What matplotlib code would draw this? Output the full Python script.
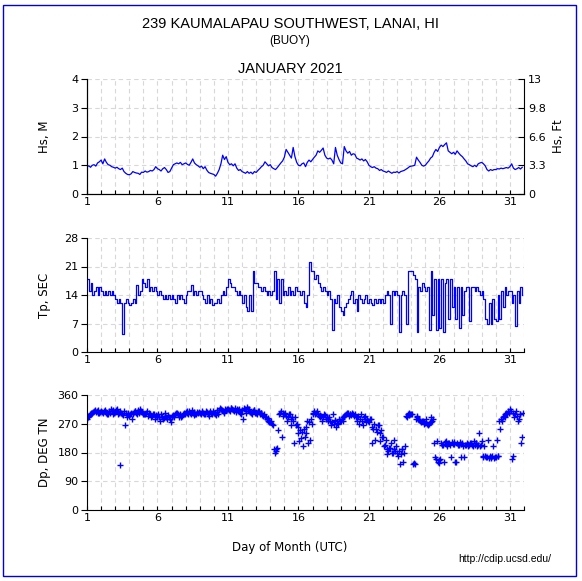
import numpy as np
import matplotlib.pyplot as plt
from matplotlib.patches import Rectangle

# 8 samples per day, Jan 1 - Jan 31
hs = [
    0.95, 0.98, 0.93, 1.00, 1.02, 0.97, 1.08, 1.12,
    1.18, 1.05, 1.22, 1.10, 1.02, 1.00, 0.95, 0.93,
    0.90, 0.93, 0.88, 0.85, 0.90, 0.78, 0.72, 0.68,
    0.67, 0.70, 0.78, 0.75, 0.73, 0.72, 0.68, 0.76,
    0.75, 0.80, 0.76, 0.78, 0.82, 0.80, 0.85, 0.95,
    0.88, 0.85, 0.80, 0.88, 0.92, 0.85, 0.75, 0.78,
    0.90, 1.02, 1.05, 1.08, 1.05, 1.10, 1.02, 1.05,
    1.08, 1.03, 1.00, 1.10, 1.22, 1.08, 1.02, 0.98,
    0.93, 0.97, 0.88, 0.95, 0.83, 0.75, 0.72, 0.70,
    0.68, 0.62, 0.72, 0.85, 1.05, 1.35, 1.20, 1.30,
    1.10, 1.02, 1.05, 0.98, 1.05, 0.90, 0.82, 0.85,
    0.78, 0.75, 0.72, 0.78, 0.72, 0.76, 0.70, 0.78,
    0.75, 0.82, 0.88, 0.95, 1.00, 1.12, 1.05, 0.98,
    1.02, 0.92, 0.88, 0.85, 0.92, 1.00, 1.08, 1.15,
    1.28, 1.55, 1.45, 1.35, 1.25, 1.62, 1.30, 1.10,
    1.00, 0.98, 1.05, 1.08, 0.95, 1.10, 1.18, 1.12,
    1.20, 1.28, 1.35, 1.50, 1.45, 1.52, 1.60, 1.35,
    1.25, 1.22, 1.25, 1.18, 1.05, 1.62, 1.35, 1.20,
    1.08, 1.05, 1.65, 1.50, 1.42, 1.48, 1.35, 1.40,
    1.38, 1.25, 1.22, 1.18, 1.22, 1.15, 1.20, 1.12,
    1.00, 0.95, 0.92, 0.95, 0.90, 0.88, 0.82, 0.85,
    0.80, 0.78, 0.75, 0.80, 0.76, 0.72, 0.76, 0.75,
    0.78, 0.73, 0.78, 0.80, 0.82, 0.86, 0.90, 0.95,
    0.97, 0.98, 1.00, 1.28, 1.18, 1.10, 1.00, 0.97,
    1.00, 1.08, 1.15, 1.25, 1.30, 1.45, 1.55, 1.48,
    1.62, 1.70, 1.65, 1.72, 1.78, 1.50, 1.45, 1.40,
    1.45, 1.38, 1.50, 1.42, 1.35, 1.30, 1.22, 1.15,
    1.05, 1.02, 0.98, 0.95, 1.00, 0.95, 1.05, 1.08,
    1.10, 1.05, 0.98, 0.85, 0.80, 0.85, 0.82, 0.85,
    0.85, 0.88, 0.87, 0.90, 0.88, 0.90, 0.92, 0.90,
    0.95, 1.05, 0.90, 0.85, 0.88, 0.92, 0.87, 0.93,
]

tp = [
    18, 15, 17, 14, 15, 16, 14, 16,
    15, 14, 15, 14, 15, 14, 15, 14,
    13, 12, 13, 12, 4.5, 12, 13, 12,
    11.5, 12, 13, 12, 16.5, 14, 15, 18,
    17, 16, 18, 15, 16, 15, 16, 15,
    14, 15, 14, 13, 14, 13, 14, 13,
    14, 13, 12, 14, 13, 14, 13, 12,
    14, 15, 15, 16.5, 14, 15, 14, 15,
    15, 14, 13, 12, 14, 12, 13, 11.5,
    12, 12, 13, 12, 14, 15, 14, 16,
    18, 17, 16, 16, 15, 14, 15, 14,
    12, 14, 11, 10, 14, 10, 20, 17,
    17, 16, 16, 15, 16, 15, 14, 15,
    14, 15, 20, 13, 18, 12, 18, 14,
    15, 14, 16, 14, 15, 14, 16, 15,
    15, 14, 15, 12, 11, 14, 22, 20,
    20, 18, 19, 17, 16, 15, 16, 15,
    14, 15, 13, 5.5, 13, 12, 14, 11,
    10, 9, 11, 12, 13, 14, 15, 12,
    13, 10, 14, 13, 12, 13, 14, 12,
    13, 12, 11.5, 13, 12, 13, 12, 13,
    12, 14, 15, 14, 7, 15, 14, 15,
    14, 5, 14, 15, 14, 7, 20, 20,
    20, 19, 18, 5, 16, 15, 17, 16,
    15, 16, 5.5, 20, 9, 18, 5.5, 18,
    6, 18, 5, 17, 18, 8, 18, 11,
    16, 8, 16, 6, 16, 9, 15, 16,
    16, 7.5, 16, 16, 15, 16, 15, 14,
    15, 13, 8, 7, 12, 7, 13, 8,
    7.5, 14, 8, 15, 11, 16, 14, 15,
    15, 12, 14, 6.5, 15, 12, 16, 14,
]

dp_a = [
    285, 295, 300, 305, 310, 308, 312, 305,
    310, 305, 312, 308, 300, 305, 310, 312,
    308, 315, 305, 140, 300, 310, 305, 300,
    295, 305, 300, 310, 305, 312, 315, 308,
    305, 300, 310, 305, 300, 295, 300, 298,
    295, 290, 300, 285, 295, 290, 298, 285,
    290, 298, 300, 305, 292, 300, 295, 305,
    308, 305, 310, 300, 305, 308, 300, 305,
    305, 310, 305, 300, 308, 305, 310, 300,
    305, 298, 308, 312, 315, 310, 308, 312,
    315, 310, 318, 312, 320, 315, 310, 305,
    312, 318, 310, 322, 315, 305, 310, 312,
    305, 310, 300, 305, 295, 290, 285, 280,
    275, 270, 190, 185, 195, 300, 310, 305,
    300, 295, 290, 300, 285, 280, 290, 270,
    260, 250, 245, 255, 240, 280, 275, 285,
    300, 310, 305, 300, 298, 295, 290, 298,
    290, 285, 280, 275, 270, 278, 272, 285,
    280, 290, 295, 300, 305, 300, 298, 302,
    300, 290, 295, 285, 280, 290, 295, 285,
    275, 285, 260, 270, 255, 265, 240, 250,
    230, 205, 190, 185, 195, 180, 190, 185,
    178, 185, 175, 190, 180, 295, 300, 305,
    300, 145, 143, 290, 285, 280, 278, 275,
    272, 270, 268, 275, 280, 210, 160, 150,
    148, 210, 205, 212, 208, 210, 205, 212,
    208, 150, 210, 205, 208, 210, 165, 205,
    208, 205, 210, 200, 205, 210, 205, 200,
    215, 165, 168, 165, 162, 165, 168, 163,
    165, 168, 280, 285, 290, 300, 305, 310,
    315, 160, 305, 300, 295, 285, 300, 230,
]

dp_b = [
    290, 300, 305, 308, 312, 310, 305, 308,
    306, 310, 305, 300, 310, 315, 300, 305,
    312, 300, 310, 305, 298, 265, 290, 305,
    300, 285, 308, 310, 300, 305, 310, 300,
    300, 305, 295, 300, 290, 300, 285, 290,
    300, 280, 292, 288, 305, 285, 290, 275,
    295, 290, 305, 300, 298, 290, 300, 302,
    310, 300, 305, 312, 298, 302, 308, 306,
    300, 308, 302, 310, 300, 295, 305, 310,
    302, 312, 300, 318, 312, 305, 315, 316,
    312, 318, 315, 310, 308, 312, 315, 300,
    285, 315, 305, 315, 308, 300, 312, 305,
    300, 310, 305, 298, 300, 292, 288, 275,
    280, 265, 180, 192, 250, 305, 230, 295,
    305, 280, 300, 265, 292, 210, 265, 240,
    215, 225, 200, 230, 260, 210, 220, 270,
    305, 300, 310, 295, 290, 280, 300, 285,
    278, 290, 265, 300, 282, 260, 270, 280,
    285, 280, 298, 305, 295, 300, 305, 295,
    290, 280, 270, 300, 265, 285, 275, 280,
    285, 210, 255, 220, 245, 265, 215, 230,
    200, 220, 175, 195, 210, 180, 220, 200,
    170, 145, 190, 150, 200, 290, 298, 300,
    302, 148, 285, 295, 282, 275, 280, 270,
    285, 265, 275, 290, 285, 165, 215, 155,
    160, 205, 150, 215, 200, 210, 165, 208,
    212, 150, 205, 212, 165, 200, 205, 210,
    200, 210, 205, 215, 210, 200, 240, 205,
    170, 200, 165, 220, 168, 162, 200, 165,
    220, 170, 255, 280, 295, 290, 300, 305,
    310, 170, 290, 310, 280, 300, 210, 305,
]

t = 1 + np.arange(len(hs)) / 8.0
days = list(range(1, 33))
day_labels = [str(d) if (d - 1) % 5 == 0 else '' for d in days]

BLUE = '#0000ff'
tick_fs = 8
lab_fs = 8.5

fig = plt.figure(figsize=(5.82, 5.81), dpi=100)

def setup(ax, ymax, yticks):
    ax.set_xlim(1, 32)
    ax.set_ylim(0, ymax)
    ax.set_xticks(days)
    ax.set_xticklabels(day_labels, fontsize=tick_fs)
    ax.set_yticks(yticks)
    ax.tick_params(axis='y', labelsize=tick_fs, direction='out', length=4, pad=2)
    ax.tick_params(axis='x', direction='in', length=3, pad=2)
    ax.grid(True, ls=(0, (4, 3)), color='#d8d8d8', lw=0.8)
    ax.set_axisbelow(True)
    ax.spines['top'].set_visible(False)
    ax.spines['right'].set_visible(False)
    ax.yaxis.set_label_coords(-0.083, 0.5)

L, W = 87 / 582, 437 / 582
ax1 = fig.add_axes([L, 1 - 194 / 581, W, 115 / 581])
ax2 = fig.add_axes([L, 1 - 352 / 581, W, 114 / 581])
ax3 = fig.add_axes([L, 1 - 510 / 581, W, 115 / 581])

setup(ax1, 4, [0, 1, 2, 3, 4])
ax1.plot(t, hs, color=BLUE, lw=0.9)
ax1.set_ylabel('Hs, M', fontsize=lab_fs)
ax1b = ax1.twinx()
ax1b.set_ylim(0, 4 * 3.2808)
ax1b.set_yticks([0, 3.28, 6.56, 9.84, 13.12])
ax1b.set_yticklabels(['0', '3.3', '6.6', '9.8', '13'])
ax1b.tick_params(axis='y', labelsize=tick_fs, direction='in', length=4, pad=3)
ax1b.spines['top'].set_visible(False)
ax1b.set_ylabel('Hs, Ft', fontsize=lab_fs)
ax1b.yaxis.set_label_coords(1.065, 0.5)

setup(ax2, 28, [0, 7, 14, 21, 28])
ax2.plot(t, tp, color=BLUE, lw=0.9, drawstyle='steps-post')
ax2.set_ylabel('Tp, SEC', fontsize=lab_fs)

setup(ax3, 360, [0, 90, 180, 270, 360])
ax3.plot(t, dp_a, '+', color=BLUE, ms=3.8, mew=1)
ax3.plot(t + 1 / 16, dp_b, '+', color=BLUE, ms=3.8, mew=1)
ax3.set_ylabel('Dp, DEG TN', fontsize=lab_fs)

fig.text(290 / 582, 1 - 24 / 581, '239 KAUMALAPAU SOUTHWEST, LANAI, HI',
         ha='center', va='center', fontsize=10.5, family='Liberation Sans')
fig.text(290 / 582, 1 - 41 / 581, '(BUOY)', ha='center', va='center',
         fontsize=8.4, family='Liberation Sans')
fig.text(290 / 582, 1 - 69 / 581, 'JANUARY 2021', ha='center', va='center',
         fontsize=10.5, family='Liberation Sans')
fig.text(290 / 582, 1 - 548 / 581, 'Day of Month (UTC)', ha='center', va='center',
         fontsize=8.5)
fig.text(505 / 582, 1 - 559 / 581, 'http://cdip.ucsd.edu/', ha='center', va='center',
         fontsize=7.5, family='Liberation Sans')

fig.patches.append(Rectangle((3 / 582, 1 - 576 / 581), 573 / 582, 571 / 581,
                             transform=fig.transFigure, fill=False,
                             edgecolor='#0000dd', lw=1))

fig.savefig('out.png', dpi=100)
